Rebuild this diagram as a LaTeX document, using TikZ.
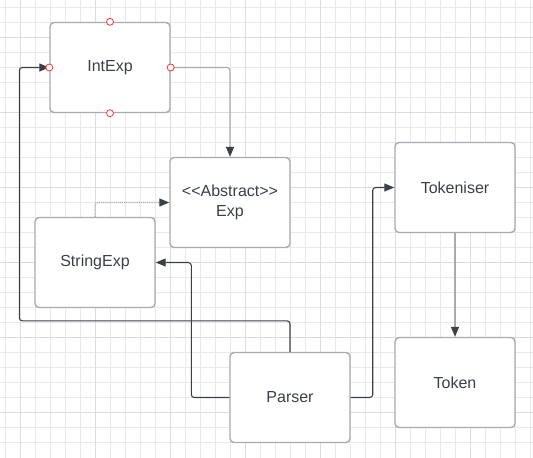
\documentclass[tikz,border=0pt]{standalone}
\usepackage{fontspec}
\setmainfont{Liberation Sans}
\usetikzlibrary{arrows.meta}
\definecolor{inkgrey}{HTML}{3B4048}
\definecolor{boxgrey}{HTML}{A7ABB0}
\definecolor{gridgrey}{HTML}{E9E9E9}
\definecolor{griddark}{HTML}{DCDCDC}
\begin{document}
\begin{tikzpicture}[x=1pt, y=-1pt, >={Triangle[length=10pt,width=8pt]},
		umlbox/.style={draw=boxgrey, line width=1.4pt, rounded corners=4pt, fill=white,
				minimum width=120pt, minimum height=90pt, text=inkgrey, align=center,
				font=\fontsize{16}{20}\selectfont},
		link/.style={->, inkgrey, line width=1.1pt, rounded corners=3pt},
		paleline/.style={-{Triangle[length=10pt,width=8pt,color=inkgrey]}, draw=boxgrey,
				line width=1.1pt, rounded corners=3pt},
		handle/.style={circle, draw=red!80, fill=white, line width=0.8pt, inner sep=0pt, minimum size=7pt}]
	\useasboundingbox (0,0) rectangle (533,458);
	\fill[white] (0,0) rectangle (533,458);

	% grid
	\foreach \x in {5,20,...,530}
		{
			\draw[gridgrey, line width=0.8pt] (\x,0) -- (\x,458);
		}
	\foreach \y in {7.5,22.5,...,455}
		{
			\draw[gridgrey, line width=0.8pt] (0,\y) -- (533,\y);
		}
	\foreach \x in {20,95,...,470}
		{
			\draw[griddark, line width=0.8pt] (\x,0) -- (\x,458);
		}
	\foreach \y in {37.5,112.5,...,420}
		{
			\draw[griddark, line width=0.8pt] (0,\y) -- (533,\y);
		}

	% classes
	\node[umlbox] (intexp) at (110,67.5) {IntExp};
	\node[umlbox] (exp) at (230,202.5) {<{}<Abstract>{}>\\Exp};
	\node[umlbox] (stringexp) at (95,262.5) {StringExp};
	\node[umlbox] (tokeniser) at (455,187.5) {Tokeniser};
	\node[umlbox] (token) at (455,382.5) {Token};
	\node[umlbox] (parser) at (290,397.5) {Parser};

	% connectors
	\draw[paleline] (intexp.east) -| (exp.north);
	\draw[paleline, densely dotted] (stringexp.north) |- (exp.west);
	\draw[link] (parser.west) -- ++(-38,0) |- (stringexp.east);
	\draw[link] (parser.north) -- ++(0,-31) -| ([xshift=-30pt]intexp.west) -- (intexp.west);
	\draw[link] (parser.east) -- ++(22,0) |- (tokeniser.west);
	\draw[paleline] (tokeniser) -- (token);

	% selection handles
	\foreach \a in {north,south,east,west}
		{
			\node[handle] at (intexp.\a) {};
		}
\end{tikzpicture}
\end{document}
